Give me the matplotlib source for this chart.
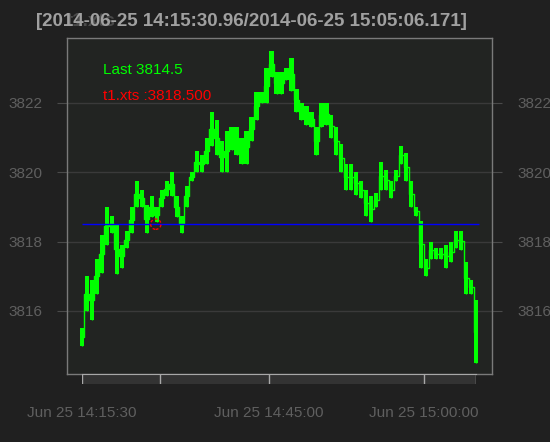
import matplotlib
matplotlib.use('Agg')
import matplotlib.pyplot as plt
import numpy as np

# price range (high / low) for each sample bucket
hi = [3815.5, 3817.0, 3816.9, 3817.5, 3818.2, 3819.0, 3818.75, 3818.5, 3817.9, 3818.3,
      3819.0, 3819.75, 3819.5, 3819.05, 3819.3, 3819.0, 3819.5, 3819.75, 3820.0, 3819.3,
      3818.75, 3819.6, 3820.0, 3820.6, 3820.5, 3821.0, 3821.75, 3821.5, 3820.9, 3821.2,
      3821.3, 3821.3, 3821.0, 3821.2, 3821.6, 3822.3, 3822.3, 3823.0, 3823.5, 3822.9,
      3822.9, 3823.0, 3823.3, 3822.4, 3822.0, 3821.9, 3821.75, 3821.3, 3822.0, 3822.0,
      3821.65, 3821.3, 3820.8, 3820.25, 3820.25, 3820.0, 3819.75, 3819.5, 3819.3, 3819.4,
      3820.3, 3820.05, 3819.75, 3820.05, 3820.75, 3820.55, 3819.75, 3819.0, 3818.6, 3817.5,
      3818.0, 3817.8, 3817.8, 3817.9, 3818.0, 3818.3, 3818.3, 3817.4, 3816.9, 3816.3]
lo = [3815.0, 3816.0, 3815.75, 3816.5, 3817.1, 3817.9, 3818.25, 3817.05, 3817.25, 3817.8,
      3818.25, 3819.0, 3819.0, 3818.25, 3818.7, 3818.55, 3819.0, 3819.3, 3819.3, 3818.7,
      3818.25, 3819.0, 3819.75, 3820.0, 3820.0, 3820.25, 3820.75, 3820.5, 3820.0, 3820.0,
      3820.65, 3820.5, 3820.25, 3820.25, 3820.9, 3821.5, 3822.0, 3822.0, 3822.75, 3822.25,
      3822.25, 3822.65, 3822.35, 3821.75, 3821.5, 3821.35, 3821.3, 3820.5, 3821.3, 3821.35,
      3821.0, 3820.5, 3820.0, 3819.5, 3819.5, 3819.35, 3819.25, 3818.75, 3818.55, 3819.0,
      3819.5, 3819.5, 3819.25, 3819.75, 3820.25, 3819.75, 3819.0, 3818.75, 3817.25, 3817.0,
      3817.5, 3817.5, 3817.5, 3817.25, 3817.4, 3817.8, 3817.75, 3816.5, 3816.5, 3814.5]

last_price = 3814.5
ref_level = 3818.5
ref_idx = 14.8
y_ticks = [3816, 3818, 3820, 3822]
x_tick_pos = [0, 15.6, 37.5, 68.6, 79]
x_tick_labels = ['Jun 25 14:15:30', '', 'Jun 25 14:45:00', 'Jun 25 15:00:00', '']
title_range = '[2014-06-25 14:15:30.96/2014-06-25 15:05:06.171]'
series_name = 't1.xts'

plt.rcParams['font.family'] = ['Liberation Sans', 'DejaVu Sans']

W, H = 550, 442
fig = plt.figure(figsize=(W / 100, H / 100), dpi=100, facecolor='#202020')

def px(x0, y0, x1, y1):
    return [x0 / W, 1 - y1 / H, (x1 - x0) / W, (y1 - y0) / H]

ax = fig.add_axes(px(67, 38, 492, 374))
ax.set_facecolor('#222422')
for s in ax.spines.values():
    s.set_color('#7a7a7a')
    s.set_linewidth(1)

idx = np.arange(len(hi))
hi_a = np.array(hi)
lo_a = np.array(lo)
ax.bar(idx, hi_a - lo_a, bottom=lo_a, width=0.85, color='#00ff00', linewidth=0, zorder=3)
ax.plot(idx, (hi_a + lo_a) / 2, drawstyle='steps-mid', color='#00ff00', lw=1, zorder=3)
ax.vlines(idx, lo_a, hi_a, color='#00ff00', lw=1, zorder=3)

ax.hlines(ref_level, 0, len(hi) - 0.5, color='#0000ff', lw=1, zorder=4)
ax.scatter([ref_idx], [ref_level], s=55, facecolors='none', edgecolors='#ff0000',
           linewidths=1, linestyles=(0, (2, 1.5)), zorder=5)

ax.set_xlim(-3.0, 82.2)
ax.set_ylim(3814.18, 3823.87)
ax.set_yticks(y_ticks)
ax.set_yticklabels([str(v) for v in y_ticks])
ax.yaxis.grid(True, color='#3a3a3a', lw=1)
ax.tick_params(axis='y', which='both', left=True, right=True, labelleft=True,
               labelright=True, length=7, color='#4a4a4a', labelcolor='#5f5f5f',
               labelsize=11, pad=11)
ax.set_xticks([])

ax.text(0.085, 0.905, 'Last ' + str(last_price), transform=ax.transAxes,
        color='#00ff00', fontsize=11, va='center')
ax.text(0.085, 0.827, series_name + ' :' + format(ref_level, '.3f'),
        transform=ax.transAxes, color='#ff0000', fontsize=11, va='center')

# time axis band under the plot
bx = fig.add_axes(px(82, 374, 476, 384))
bx.set_facecolor('#333333')
bx.set_xlim(0, 79)
bx.set_ylim(0, 1)
for s in ['left', 'right', 'bottom']:
    bx.spines[s].set_visible(False)
bx.spines['top'].set_color('#a8a8a8')
bx.set_yticks([])
for p in x_tick_pos:
    bx.axvline(p, color='#a8a8a8', lw=1)
bx.set_xticks(x_tick_pos)
bx.set_xticklabels(x_tick_labels)
bx.tick_params(axis='x', length=0, pad=16, labelsize=11, labelcolor='#5f5f5f')

# series name sits underneath the date range, as in the original
fig.text(67 / W, 1 - 21 / H, series_name, fontsize=13.5, fontweight='bold',
         color='#4a4a4a', va='center', ha='left')
fig.text(467 / W, 1 - 21 / H, title_range, fontsize=13.5, fontweight='bold',
         color='#a0a0a0', va='center', ha='right')

fig.savefig('out.png', dpi=100, facecolor=fig.get_facecolor())
